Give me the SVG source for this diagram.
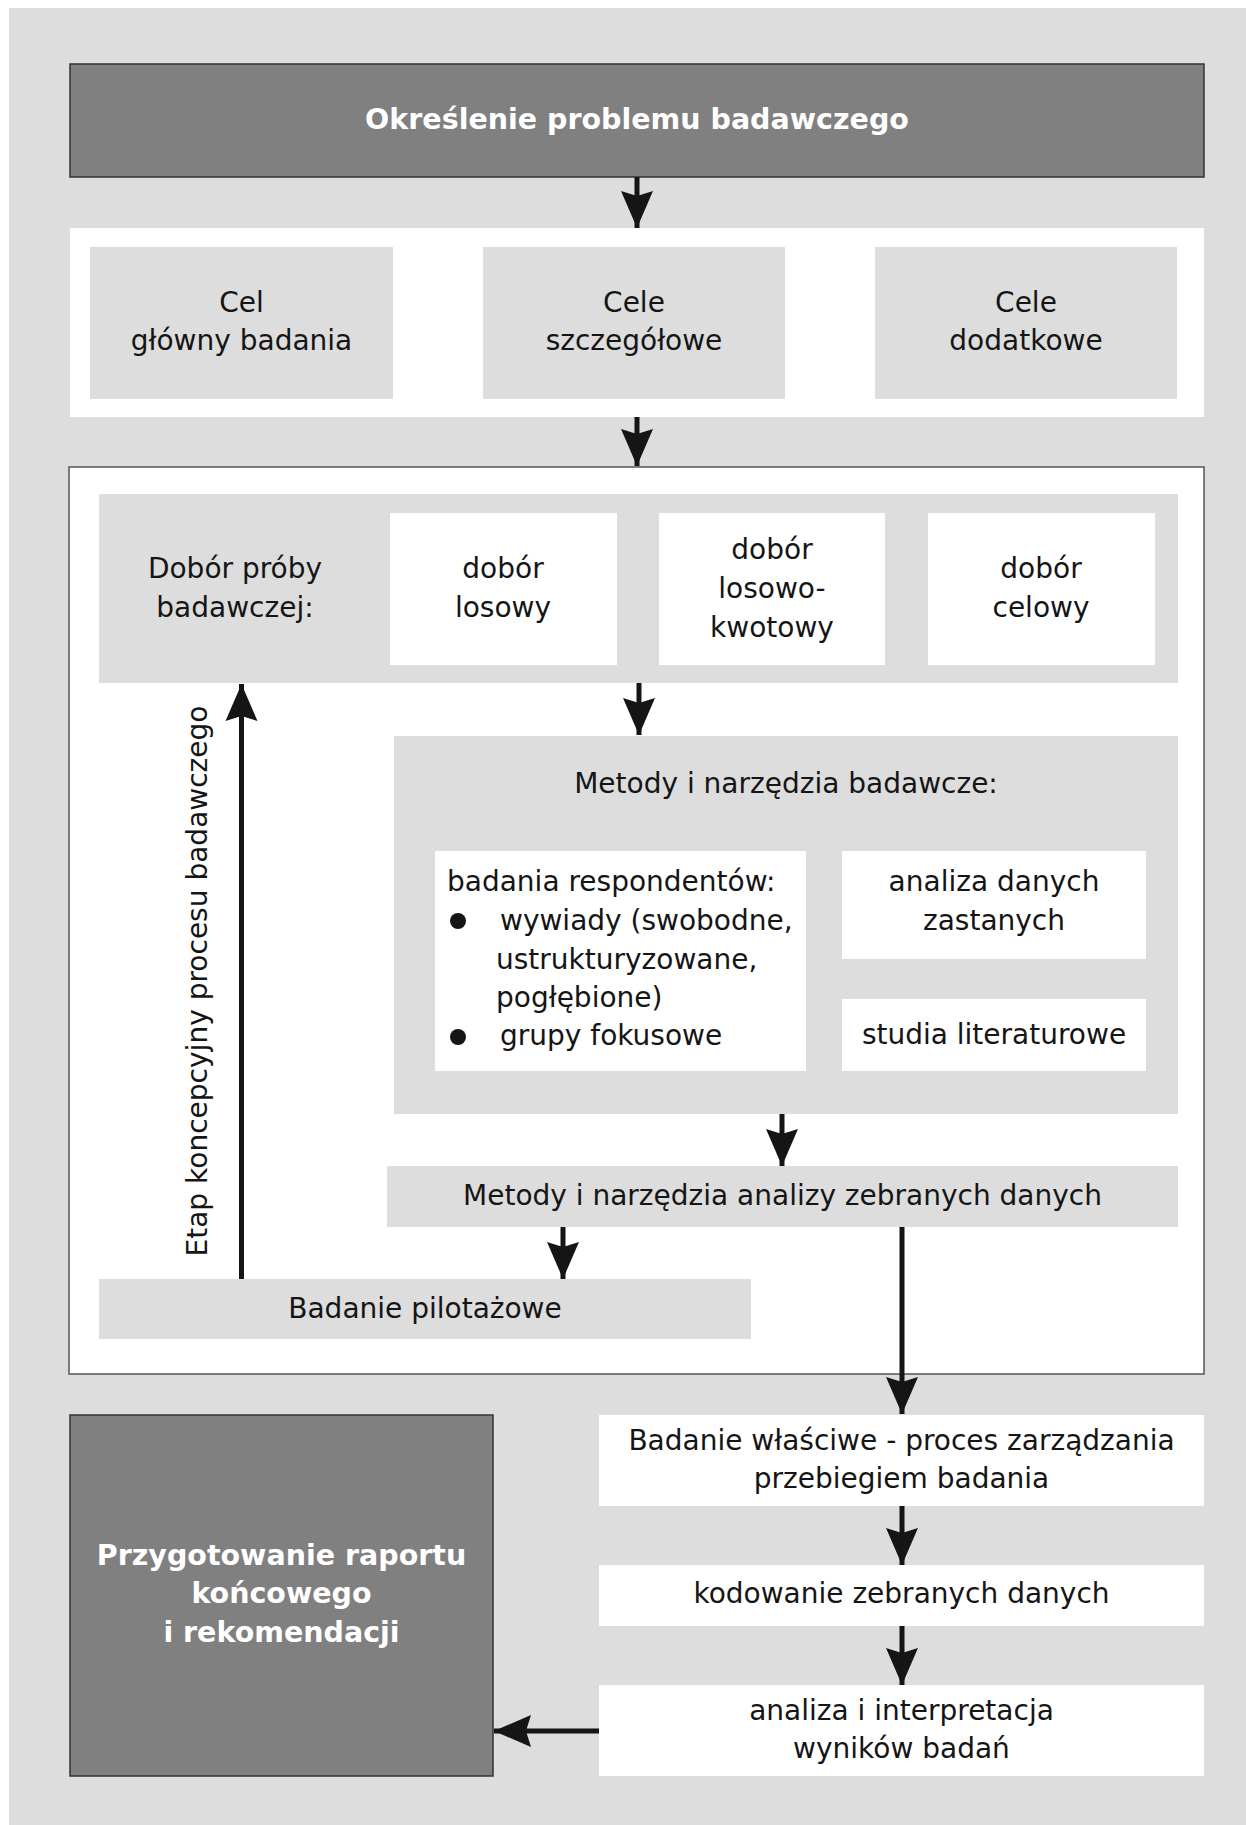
<svg xmlns="http://www.w3.org/2000/svg" width="1246" height="1825" viewBox="0 0 1246 1825">
<defs>
<marker id="ah" markerUnits="userSpaceOnUse" viewBox="-40 -20 42 40" refX="0" refY="0" markerWidth="42" markerHeight="40" orient="auto">
<path d="M0,0 L-37,-16 L-32,0 L-37,16 Z" fill="#151515"/>
</marker>
<style>
.t{font-family:"DejaVu Sans","Liberation Sans",sans-serif;font-size:28px;fill:#151515;text-anchor:middle}
.l{text-anchor:start}
.b{font-family:"DejaVu Sans","Liberation Sans",sans-serif;font-size:28.5px;font-weight:bold;fill:#ffffff;text-anchor:middle}
.g{fill:#dddddd}
.w{fill:#ffffff}
.d{fill:#808080;stroke:#333333;stroke-width:1.5}
.c{stroke:#151515;stroke-width:5;fill:none;marker-end:url(#ah)}
</style>
</defs>
<rect x="0" y="0" width="1246" height="1825" fill="#ffffff"/>
<rect x="9" y="8" width="1237" height="1817" fill="#dddddd"/>

<g id="problem">
<rect class="d" x="70" y="64" width="1134" height="113"/>
<text class="b" x="637" y="129">Określenie problemu badawczego</text>
</g>

<g id="cele-panel">
<rect class="w" x="70" y="228" width="1134" height="189"/>
</g>
<g id="cel-glowny">
<rect class="g" x="90" y="247" width="303" height="152"/>
<text class="t" x="241.5" y="312">Cel</text>
<text class="t" x="241.5" y="350">główny badania</text>
</g>
<g id="cele-szczegolowe">
<rect class="g" x="483" y="247" width="302" height="152"/>
<text class="t" x="634" y="312">Cele</text>
<text class="t" x="634" y="350">szczegółowe</text>
</g>
<g id="cele-dodatkowe">
<rect class="g" x="875" y="247" width="302" height="152"/>
<text class="t" x="1026" y="312">Cele</text>
<text class="t" x="1026" y="350">dodatkowe</text>
</g>

<g id="etap-koncepcyjny">
<rect x="69" y="467" width="1135" height="907" fill="#ffffff" stroke="#555555" stroke-width="1.5"/>
<text class="t" transform="translate(207,981) rotate(-90)" font-size="33" textLength="551" lengthAdjust="spacingAndGlyphs">Etap koncepcyjny procesu badawczego</text>
</g>

<g id="dobor-proby">
<rect class="g" x="99" y="494" width="1079" height="189"/>
<text class="t" x="235" y="578">Dobór próby</text>
<text class="t" x="235" y="617">badawczej:</text>
</g>
<g id="dobor-losowy">
<rect class="w" x="390" y="513" width="227" height="152"/>
<text class="t" x="503" y="578">dobór</text>
<text class="t" x="503" y="617">losowy</text>
</g>
<g id="dobor-losowo-kwotowy">
<rect class="w" x="659" y="513" width="226" height="152"/>
<text class="t" x="772" y="559">dobór</text>
<text class="t" x="772" y="598">losowo-</text>
<text class="t" x="772" y="637">kwotowy</text>
</g>
<g id="dobor-celowy">
<rect class="w" x="928" y="513" width="227" height="152"/>
<text class="t" x="1041" y="578">dobór</text>
<text class="t" x="1041" y="617">celowy</text>
</g>

<g id="metody-narzedzia">
<rect class="g" x="394" y="736" width="784" height="378"/>
<text class="t" x="786" y="793">Metody i narzędzia badawcze:</text>
</g>
<g id="badania-respondentow">
<rect class="w" x="435" y="851" width="371" height="220"/>
<text class="t l" x="447" y="891">badania respondentów:</text>
<circle cx="458" cy="921" r="8" fill="#151515"/>
<text class="t l" x="500" y="930">wywiady (swobodne,</text>
<text class="t l" x="496" y="969">ustrukturyzowane,</text>
<text class="t l" x="496" y="1007">pogłębione)</text>
<circle cx="458" cy="1037" r="8" fill="#151515"/>
<text class="t l" x="500" y="1045">grupy fokusowe</text>
</g>
<g id="analiza-danych-zastanych">
<rect class="w" x="842" y="851" width="304" height="108"/>
<text class="t" x="994" y="891">analiza danych</text>
<text class="t" x="994" y="930">zastanych</text>
</g>
<g id="studia-literaturowe">
<rect class="w" x="842" y="999" width="304" height="72"/>
<text class="t" x="994" y="1044">studia literaturowe</text>
</g>

<g id="metody-analizy">
<rect class="g" x="387" y="1166" width="791" height="61"/>
<text class="t" x="782.5" y="1205">Metody i narzędzia analizy zebranych danych</text>
</g>
<g id="badanie-pilotazowe">
<rect class="g" x="99" y="1279" width="652" height="60"/>
<text class="t" x="425" y="1318">Badanie pilotażowe</text>
</g>

<g id="badanie-wlasciwe">
<rect class="w" x="599" y="1415" width="605" height="91"/>
<text class="t" x="901.5" y="1450">Badanie właściwe - proces zarządzania</text>
<text class="t" x="901.5" y="1488">przebiegiem badania</text>
</g>
<g id="kodowanie">
<rect class="w" x="599" y="1565" width="605" height="61"/>
<text class="t" x="901.5" y="1603">kodowanie zebranych danych</text>
</g>
<g id="analiza-interpretacja">
<rect class="w" x="599" y="1685" width="605" height="91"/>
<text class="t" x="901.5" y="1720">analiza i interpretacja</text>
<text class="t" x="901.5" y="1758">wyników badań</text>
</g>
<g id="raport">
<rect class="d" x="70" y="1415" width="423" height="361"/>
<text class="b" x="281.5" y="1565">Przygotowanie raportu</text>
<text class="b" x="281.5" y="1603">końcowego</text>
<text class="b" x="281.5" y="1642">i rekomendacji</text>
</g>

<g id="connectors">
<line class="c" x1="637" y1="177" x2="637" y2="228"/>
<line class="c" x1="637" y1="417" x2="637" y2="466"/>
<line class="c" x1="639" y1="683" x2="639" y2="735"/>
<line class="c" x1="782" y1="1114" x2="782" y2="1166"/>
<line class="c" x1="563" y1="1227" x2="563" y2="1279"/>
<line class="c" x1="902" y1="1227" x2="902" y2="1414"/>
<line class="c" x1="902" y1="1506" x2="902" y2="1565"/>
<line class="c" x1="902" y1="1626" x2="902" y2="1685"/>
<line class="c" x1="599" y1="1731" x2="494" y2="1731"/>
<line class="c" x1="241.5" y1="1279" x2="241.5" y2="684"/>
</g>
</svg>
